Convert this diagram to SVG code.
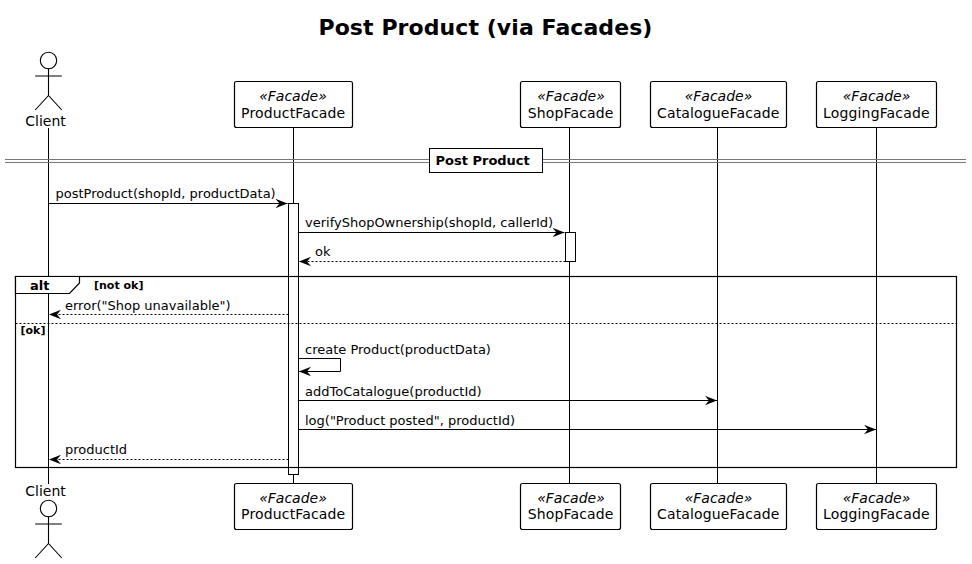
<svg xmlns="http://www.w3.org/2000/svg" width="972" height="564" viewBox="0 0 972 564">
<style>
text{font-family:"DejaVu Sans","Liberation Sans",sans-serif;fill:#000}
.title{font-size:22px;font-weight:bold;text-anchor:middle;letter-spacing:.08px}
.lbl{font-size:13px}
.name{font-size:14px;text-anchor:middle}
.fn{letter-spacing:.15px}
.st{font-size:14px;font-style:italic;text-anchor:middle}
.b{font-size:13px;font-weight:bold}
.g{font-size:11px;font-weight:bold}
.box{fill:#fff;stroke:#000;stroke-width:1.2}
.life{stroke:#000;stroke-width:1;fill:none}
.act{fill:#fff;stroke:#000;stroke-width:1}
.msg{stroke:#000;stroke-width:1;fill:none}
.dash{stroke-dasharray:2 2}
.fig{fill:#fff;stroke:#000;stroke-width:1.1}
</style>
<defs>
<marker id="ah" markerUnits="userSpaceOnUse" markerWidth="14" markerHeight="12" refX="12" refY="5" orient="auto"><path d="M0 .3L12 5L0 9.7L4 5Z" fill="#000"/></marker>
<g id="actor"><circle cx="48.5" cy="0" r="8.2" class="fig"/><path d="M48.5 8V35M35.2 15.5H61.8M35.2 49.5L48.5 35L61.8 49.5" class="fig" fill="none"/></g>
</defs>
<text class="title" x="485.5" y="35">Post Product (via Facades)</text>
<g id="lifelines">
<path class="life" d="M48.5 128V484M293.5 128V484M569.5 128V484M717.5 128V484M876.5 128V484"/>
</g>
<g id="divider">
<path d="M5 159.5H966M5 162.5H966" stroke="#777" stroke-width="1" fill="none"/>
<rect x="429.5" y="148.5" width="113" height="24" fill="#fff" stroke="#000" stroke-width="1"/>
<text class="b" x="435.5" y="165">Post Product</text>
</g>
<g id="activations">
<rect class="act" x="288.5" y="203.5" width="10" height="271"/>
<rect class="act" x="565.5" y="232.5" width="10" height="29"/>
</g>
<g id="frame-alt">
<rect x="15.5" y="276.5" width="941" height="191" fill="none" stroke="#000" stroke-width="1.2"/>
<path d="M15.5 276.5H79.5V283L69.5 293.5H15.5Z" fill="#fff" stroke="#000" stroke-width="1.2"/>
<path d="M15.5 323.5H956.5" stroke="#000" stroke-width="1" stroke-dasharray="2 2"/>
<text class="b" x="30" y="290">alt</text>
<text class="g" x="94" y="289">[not ok]</text>
<text class="g" x="20.5" y="334">[ok]</text>
</g>
<g id="connectors">
<path class="msg" marker-end="url(#ah)" d="M48.5 203.5H287.5"/>
<path class="msg" marker-end="url(#ah)" d="M298.5 232.5H564.5"/>
<path class="msg dash" marker-end="url(#ah)" d="M565.5 261.5H299"/>
<path class="msg dash" marker-end="url(#ah)" d="M288.5 314.5H49"/>
<path class="msg" marker-end="url(#ah)" d="M298.5 358.5H340.5V371.5H299"/>
<path class="msg" marker-end="url(#ah)" d="M298.5 400.5H717"/>
<path class="msg" marker-end="url(#ah)" d="M298.5 429.5H876"/>
<path class="msg dash" marker-end="url(#ah)" d="M288.5 459.5H49"/>
</g>
<g id="labels">
<text class="lbl" x="55.5" y="198">postProduct(shopId, productData)</text>
<text class="lbl" x="305" y="227">verifyShopOwnership(shopId, callerId)</text>
<text class="lbl" x="315" y="256">ok</text>
<text class="lbl" x="65" y="310">error("Shop unavailable")</text>
<text class="lbl" x="305" y="354">create Product(productData)</text>
<text class="lbl" x="305" y="396">addToCatalogue(productId)</text>
<text class="lbl" x="305" y="425">log("Product posted", productId)</text>
<text class="lbl" x="65" y="454">productId</text>
</g>
<g id="client-top"><use href="#actor" y="60.5"/><text class="name" x="45.5" y="126">Client</text></g>
<g id="client-bottom"><use href="#actor" y="508.5"/><text class="name" x="45.5" y="496">Client</text></g>
<g id="product-top"><rect class="box" x="234.5" y="81.5" width="118" height="46" rx="2"/><text class="st" x="293" y="101">«Facade»</text><text class="name fn" x="293.2" y="118">ProductFacade</text></g>
<g id="shop-top"><rect class="box" x="520.5" y="81.5" width="100" height="46" rx="2"/><text class="st" x="571" y="101">«Facade»</text><text class="name fn" x="570.7" y="118">ShopFacade</text></g>
<g id="catalogue-top"><rect class="box" x="650.5" y="81.5" width="136" height="46" rx="2"/><text class="st" x="718.5" y="101">«Facade»</text><text class="name fn" x="718.3" y="118">CatalogueFacade</text></g>
<g id="logging-top"><rect class="box" x="816.5" y="81.5" width="120" height="46" rx="2"/><text class="st" x="876.5" y="101">«Facade»</text><text class="name fn" x="876.4" y="118">LoggingFacade</text></g>
<g id="product-bottom"><rect class="box" x="234.5" y="483.5" width="118" height="46" rx="2"/><text class="st" x="293" y="502.5">«Facade»</text><text class="name fn" x="293.2" y="519">ProductFacade</text></g>
<g id="shop-bottom"><rect class="box" x="520.5" y="483.5" width="100" height="46" rx="2"/><text class="st" x="571" y="502.5">«Facade»</text><text class="name fn" x="570.7" y="519">ShopFacade</text></g>
<g id="catalogue-bottom"><rect class="box" x="650.5" y="483.5" width="136" height="46" rx="2"/><text class="st" x="718.5" y="502.5">«Facade»</text><text class="name fn" x="718.3" y="519">CatalogueFacade</text></g>
<g id="logging-bottom"><rect class="box" x="816.5" y="483.5" width="120" height="46" rx="2"/><text class="st" x="876.5" y="502.5">«Facade»</text><text class="name fn" x="876.4" y="519">LoggingFacade</text></g>
</svg>
